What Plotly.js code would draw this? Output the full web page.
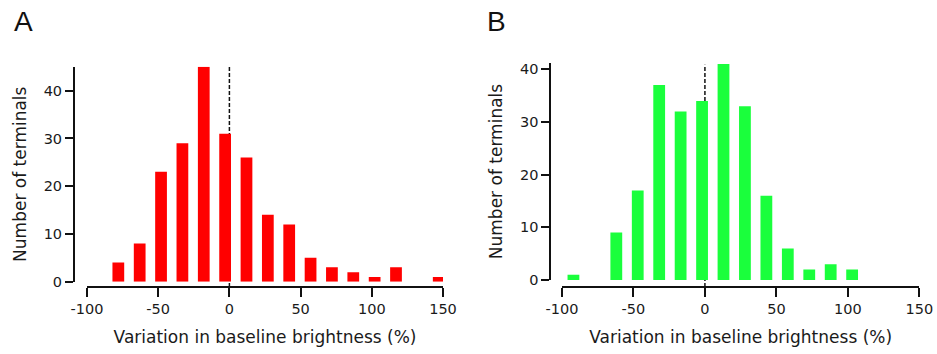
<!DOCTYPE html>
<html>
<head>
<meta charset="utf-8">
<script src="https://cdn.plot.ly/plotly-3.0.1.min.js"></script>
<style>html,body{margin:0;padding:0;background:#fff;}#chart{width:937px;height:354px;}</style>
</head>
<body>
<div id="chart"></div>
<script>
// Panel A (red) histogram bin centres and counts
const binsA = [-78, -63, -48, -33, -18, -3, 12, 27, 42, 57, 72, 87, 102, 117, 132, 147];
const countsA = [4, 8, 23, 29, 45, 31, 26, 14, 12, 5, 3, 2, 1, 3, 0, 1];
// Panel B (green) histogram bin centres and counts
const binsB = [-92, -77, -62, -47, -32, -17, -2, 13, 28, 43, 58, 73, 88, 103];
const countsB = [1, 0, 9, 17, 37, 32, 34, 41, 33, 16, 6, 2, 3, 2];
const xTicks = [-100, -50, 0, 50, 100, 150];
const yTicks = [0, 10, 20, 30, 40];
const panelLabels = ["A", "B"];
const xTitle = "Variation in baseline brightness (%)";
const yTitle = "Number of terminals";
const refLine = 0;

const W = 937, H = 354;
const font = {family: "DejaVu Sans, Verdana, sans-serif", size: 14.5, color: "#1a1a1a"};
const titleFont = {family: "DejaVu Sans, Verdana, sans-serif", size: 17, color: "#1a1a1a"};
const xAxisPos = 1 - 287 / H;

function xax(domain) {
  return {
    domain: domain, range: [-100, 150], anchor: 'free', position: xAxisPos,
    tickvals: xTicks, ticktext: xTicks.map(String),
    showline: true, linecolor: '#111', linewidth: 2,
    ticks: 'outside', ticklen: 9, tickwidth: 2, tickcolor: '#111',
    showgrid: false, zeroline: false, fixedrange: true,
    tickfont: font,
    title: {text: xTitle, font: titleFont, standoff: 14}
  };
}
function yax(domain, range, pos) {
  return {
    domain: domain, range: range, anchor: 'free', position: pos,
    tickvals: yTicks, showline: true, linecolor: '#111', linewidth: 2,
    ticks: 'outside', ticklen: 8, tickwidth: 2, tickcolor: '#111',
    showgrid: false, zeroline: false, fixedrange: true,
    tickfont: font,
    title: {text: yTitle, font: titleFont, standoff: 12}
  };
}

const data = [
  {type: 'bar', x: binsA, y: countsA, xaxis: 'x', yaxis: 'y',
   marker: {color: '#ff0000', line: {width: 0}}, hoverinfo: 'skip'},
  {type: 'bar', x: binsB, y: countsB, xaxis: 'x2', yaxis: 'y2',
   marker: {color: '#1aff3c', line: {width: 0}}, hoverinfo: 'skip'}
];

const yDomA = [1 - 281.7 / H, 1 - 66.8 / H];
const yDomB = [1 - 280 / H, 1 - 63 / H];

const layout = {
  width: W, height: H, margin: {l: 0, r: 0, t: 0, b: 0},
  paper_bgcolor: '#fff', plot_bgcolor: 'rgba(0,0,0,0)',
  showlegend: false, bargap: 0.45,
  font: font,
  xaxis: xax([87 / W, 443 / W]),
  yaxis: yax(yDomA, [0, 45], 74 / W),
  xaxis2: xax([562 / W, 919.3 / W]),
  yaxis2: yax(yDomB, [0, 41.2], 550.3 / W),
  shapes: [
    {type: 'line', layer: 'below', xref: 'x', yref: 'paper', x0: refLine, x1: refLine,
     y0: xAxisPos, y1: yDomA[1], line: {color: '#111', width: 1.5, dash: '4px,2px'}},
    {type: 'line', layer: 'below', xref: 'x2', yref: 'paper', x0: refLine, x1: refLine,
     y0: xAxisPos, y1: yDomB[1] - 0.005, line: {color: '#111', width: 1.5, dash: '4px,2px'}}
  ],
  annotations: [
    {text: panelLabels[0], xref: 'paper', yref: 'paper', x: 23 / W, y: 1 - 22 / H,
     showarrow: false, xanchor: 'center', yanchor: 'middle',
     font: {family: 'Liberation Sans, Arial, sans-serif', size: 28, color: '#111'}},
    {text: panelLabels[1], xref: 'paper', yref: 'paper', x: 497 / W, y: 1 - 22 / H,
     showarrow: false, xanchor: 'center', yanchor: 'middle',
     font: {family: 'Liberation Sans, Arial, sans-serif', size: 28, color: '#111'}}
  ]
};

Plotly.newPlot('chart', data, layout, {staticPlot: true, displayModeBar: false});
</script>
</body>
</html>
